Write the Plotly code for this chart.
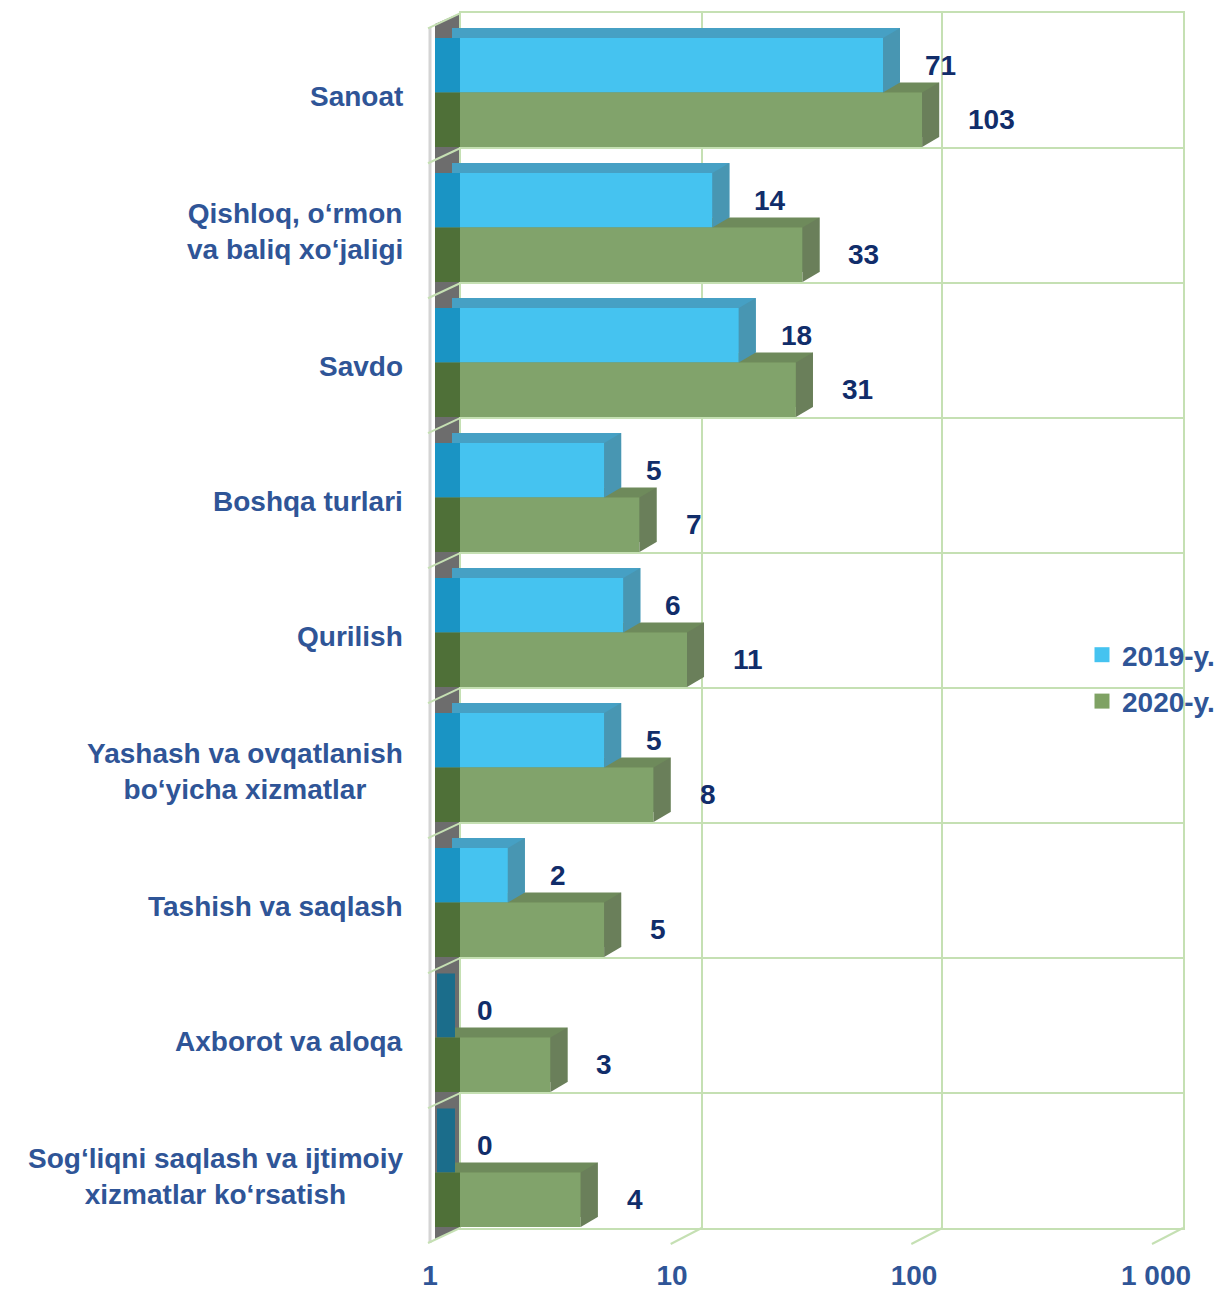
import math
import plotly.graph_objects as go

# ---------------- data ----------------
categories = [
    "Sanoat",
    "Qishloq, o\u2018rmon<br>va baliq xo\u2018jaligi",
    "Savdo",
    "Boshqa turlari",
    "Qurilish",
    "Yashash va ovqatlanish<br>bo\u2018yicha xizmatlar",
    "Tashish va saqlash",
    "Axborot va aloqa",
    "Sog\u2018liqni saqlash va ijtimoiy<br>xizmatlar ko\u2018rsatish",
]
values_2019 = [71, 14, 18, 5, 6, 5, 2, 0, 0]
values_2020 = [103, 33, 31, 7, 11, 8, 5, 3, 4]
series_names = ["2019-y.", "2020-y."]
tick_values = [1, 10, 100, 1000]
tick_labels = ["1", "10", "100", "1 000"]

# ---------------- style ----------------
W, H = 1215, 1292
FONT = "Liberation Sans, Arial, sans-serif"
CAT_COLOR = "#2f5597"
LBL_COLOR = "#112d6a"
GRID = "#c5e0b3"
FRONT = ["#45c3f0", "#81a36b"]
LEGEND_COLORS = ["#45c3f0", "#7fa264"]
TOP = ["#46a0c4", "#6e8a5b"]
SIDE = ["#4896b2", "#6a7f5a"]
STRIP = ["#1a94c4", "#4f7038"]
ZERO_STUB = "#1b6d8b"
WALL = "#6d6d6d"
BARGAP = 0.193
DEPTH_X, DEPTH_Y = 17, 10   # pixel offset of the bar back faces
LOG_MIN, LOG_MAX = 0, 3


def px_x(x):
    return x / W


def px_y(y):
    return 1 - y / H


def dom_x(a, b):
    return [px_x(a), px_x(b)]


def dom_y(top, bottom):
    return [px_y(bottom), px_y(top)]


n = len(categories)
ypos = list(range(n))
bw = (1 - BARGAP) / 2
centers = [[i - bw / 2 for i in ypos], [i + bw / 2 for i in ypos]]
series = [values_2019, values_2020]

fig = go.Figure()

# subplot 1: back wall with grid (invisible anchor trace)
fig.add_trace(go.Scatter(x=[1], y=[0], xaxis="x", yaxis="y", mode="markers",
                         marker=dict(opacity=0), showlegend=False, hoverinfo="skip"))

# subplot 2: back faces of bars (top faces)
for s in range(2):
    fig.add_trace(go.Bar(y=ypos, x=series[s], orientation="h", xaxis="x2", yaxis="y2",
                         marker=dict(color=TOP[s], line=dict(width=0)),
                         showlegend=False, hoverinfo="skip"))

# subplot 3: front faces
for s in range(2):
    fig.add_trace(go.Bar(y=ypos, x=series[s], orientation="h", xaxis="x3", yaxis="y3",
                         name=series_names[s], showlegend=False,
                         marker=dict(color=FRONT[s], line=dict(width=0))))

# legend entries (square swatches)
for s in range(2):
    fig.add_trace(go.Scatter(x=[None], y=[None], xaxis="x3", yaxis="y3", mode="markers",
                             name=series_names[s], legendgroup=series_names[s],
                             marker=dict(symbol="square", size=15, color=LEGEND_COLORS[s])))

shapes = []
# left wall (gray panel)
wall_path = "M {},{} L {},{} L {},{} L {},{} Z".format(
    px_x(435), px_y(24), px_x(460), px_y(13), px_x(460), px_y(1228), px_x(435), px_y(1240))
shapes.append(dict(type="path", xref="paper", yref="paper", path=wall_path,
                   fillcolor=WALL, line=dict(width=0), layer="below"))
shapes.append(dict(type="line", xref="paper", yref="paper", x0=px_x(430), x1=px_x(430),
                   y0=px_y(27), y1=px_y(1243), line=dict(color="#d4d4d4", width=3), layer="below"))
# diagonal grid lines on the wall (category boundaries)
for k in range(n + 1):
    shapes.append(dict(type="line", xref="paper", yref="y domain", ysizemode="pixel",
                       yanchor=1 - k / n, x0=px_x(428), x1=px_x(460), y0=-15, y1=0,
                       line=dict(color=GRID, width=2), layer="below"))
# slanted floor ticks
for v in tick_values[1:]:
    frac = (math.log10(v) - LOG_MIN) / (LOG_MAX - LOG_MIN)
    shapes.append(dict(type="line", xref="x domain", xsizemode="pixel", xanchor=frac,
                       x0=-31, x1=0, yref="y domain", ysizemode="pixel", yanchor=0,
                       y0=-16, y1=0, line=dict(color=GRID, width=2), layer="below"))

half = bw * 135 / 2
for s in range(2):
    for i, v in enumerate(series[s]):
        c = centers[s][i]
        if v > 0:
            # dark strip under the wall
            shapes.append(dict(type="rect", xref="x3 domain", xsizemode="pixel", xanchor=0,
                               x0=0, x1=25, yref="y3", y0=c - bw / 2, y1=c + bw / 2,
                               fillcolor=STRIP[s], line=dict(width=0), layer="above"))
            # side face
            p = "M 0,{a} L {dx},{b} L {dx},{c} L 0,{d} Z".format(
                a=half, b=half + DEPTH_Y, c=-half + DEPTH_Y, d=-half, dx=DEPTH_X)
            shapes.append(dict(type="path", xref="x3", xsizemode="pixel", xanchor=v,
                               yref="y3", ysizemode="pixel", yanchor=c, path=p,
                               fillcolor=SIDE[s], line=dict(width=0), layer="above"))
        else:
            shapes.append(dict(type="rect", xref="x3 domain", xsizemode="pixel", xanchor=0,
                               x0=2, x1=20, yref="y3", y0=c - bw / 2 - 0.07, y1=c + bw / 2,
                               fillcolor=ZERO_STUB, line=dict(width=0), layer="above"))

annotations = []
for i, cat in enumerate(categories):
    annotations.append(dict(xref="x3 domain", x=0, xshift=-30, xanchor="right",
                            yref="y3", y=i, yshift=-4, yanchor="middle", align="center",
                            text=cat, showarrow=False,
                            font=dict(family=FONT, size=28, color=CAT_COLOR, weight="bold")))
shifts = [40, 44]
for s in range(2):
    for i, v in enumerate(series[s]):
        annotations.append(dict(xref="x3", x=math.log10(max(v, 1)), xshift=shifts[s],
                                xanchor="left", yref="y3", y=centers[s][i], yanchor="middle",
                                text=str(v), showarrow=False,
                                font=dict(family=FONT, size=28, color=LBL_COLOR, weight="bold")))

fig.update_layout(
    width=W, height=H,
    margin=dict(l=0, r=0, t=0, b=0, autoexpand=False),
    paper_bgcolor="white", plot_bgcolor="rgba(0,0,0,0)",
    barmode="group", bargap=BARGAP, bargroupgap=0,
    font=dict(family=FONT),
    showlegend=True,
    legend=dict(x=px_x(1082), y=px_y(678), xanchor="left", yanchor="middle",
                bgcolor="rgba(0,0,0,0)", itemwidth=30, tracegroupgap=7,
                font=dict(family=FONT, size=28, color=CAT_COLOR, weight="bold")),
    xaxis=dict(type="log", range=[LOG_MIN, LOG_MAX], domain=dom_x(461, 1183), anchor="y",
               showgrid=True, gridcolor=GRID, gridwidth=2, tickvals=tick_values,
               showticklabels=False, ticks="", showline=True, mirror=True,
               linecolor=GRID, linewidth=2, zeroline=False, automargin=False),
    yaxis=dict(range=[n, 0], domain=dom_y(13.3, 1228), anchor="x",
               showgrid=True, gridcolor=GRID, gridwidth=2, dtick=1, tick0=0,
               showticklabels=False, ticks="", showline=True, mirror=True,
               linecolor=GRID, linewidth=2, zeroline=False, automargin=False),
    xaxis2=dict(type="log", range=[LOG_MIN, LOG_MAX],
                domain=dom_x(435 + DEPTH_X, 1161 + DEPTH_X),
                anchor="y2", visible=False, automargin=False),
    yaxis2=dict(range=[n - 0.5, -0.5], domain=dom_y(25 - DEPTH_Y, 1240 - DEPTH_Y),
                anchor="x2", visible=False, automargin=False),
    xaxis3=dict(type="log", range=[LOG_MIN, LOG_MAX], domain=dom_x(435, 1161), anchor="y3",
                showgrid=False, zeroline=False, showline=False, ticks="",
                tickvals=tick_values, ticktext=tick_labels, automargin=False,
                ticklabelstandoff=16, ticklabelshift=-5,
                tickfont=dict(family=FONT, size=28, color=CAT_COLOR, weight="bold")),
    yaxis3=dict(range=[n - 0.5, -0.5], domain=dom_y(25, 1240), anchor="x3",
                visible=False, automargin=False),
    shapes=shapes,
    annotations=annotations,
)

fig.write_html("out.html", config={"displayModeBar": False},
               post_script="document.body.style.margin='0';"
                           "document.body.style.overflow='hidden';"
                           "document.documentElement.style.overflow='hidden';")
